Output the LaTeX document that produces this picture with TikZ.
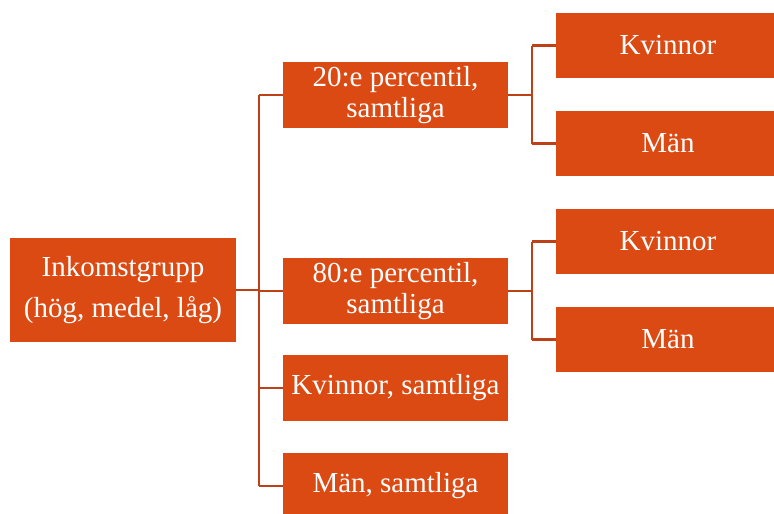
\documentclass[tikz,border=0pt]{standalone}
\usepackage{fontspec}
\setmainfont{Liberation Serif}
\definecolor{cbox}{RGB}{220,74,20}
\definecolor{cln}{RGB}{190,64,22}
\tikzset{
    box/.style={fill=cbox, text=white, inner sep=0pt, align=center,
        font=\fontsize{29}{31}\selectfont},
    lvtwo/.style={box, minimum width=225pt, minimum height=66pt},
    lvthree/.style={box, minimum width=224pt, minimum height=65pt},
    conn/.style={draw=cln, line width=2.6pt}
}

\begin{document}
\begin{tikzpicture}[x=1pt, y=-1pt]
    \useasboundingbox(0, 0) rectangle (774, 514);
    % root
    \node[box, minimum width=226pt, minimum height=104pt,
        font=\fontsize{29}{41}\selectfont](inkomst) at(123, 290)
        {Inkomstgrupp\\(hög, medel, låg)};
    % second level
    \node[lvtwo](p20) at(395.5, 95){20:e percentil,\\samtliga};
    \node[lvtwo](p80) at(395.5, 291){80:e percentil,\\samtliga};
    \node[lvtwo](kall) at(395.5, 388){Kvinnor, samtliga};
    \node[lvtwo](mall) at(395.5, 486){Män, samtliga};
    % third level
    \node[lvthree](kv20) at(668, 45.5){Kvinnor};
    \node[lvthree](man20) at(668, 143.5){Män};
    \node[lvthree](kv80) at(668, 241.5){Kvinnor};
    \node[lvthree](man80) at(668, 339.5){Män};
    % connectors
    \coordinate(bus) at(259, 0);
    \coordinate(bustwo) at(532, 0);
    \draw[conn](inkomst.east)--(bus |- inkomst.east);
    \draw[conn](bus |- p20.west)--(bus |- mall.west);
    \foreach \n in {p20, p80, kall, mall}
        \draw[conn](bus |- \n.west)--(\n.west);
    \foreach \p/\a/\b in {p20/kv20/man20, p80/kv80/man80}{
        \draw[conn](\p.east)--(bustwo |- \p.east);
        \draw[conn](bustwo |- \a.west)--(bustwo |- \b.west);
        \draw[conn](bustwo |- \a.west)--(\a.west);
        \draw[conn](bustwo |- \b.west)--(\b.west);
    }
\end{tikzpicture}
\end{document}
